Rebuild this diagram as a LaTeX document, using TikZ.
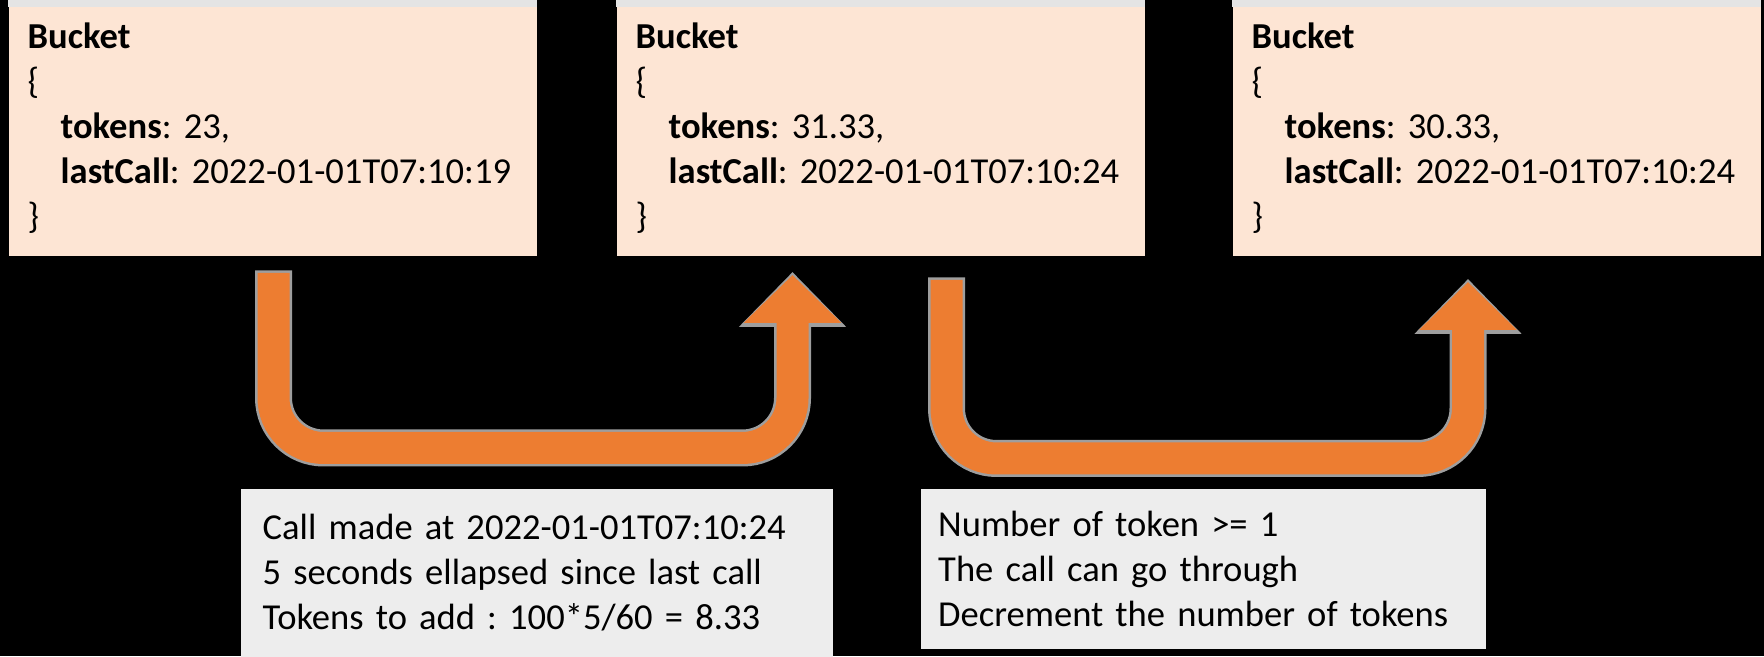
\documentclass[tikz,border=0pt]{standalone}
\usepackage{fontspec}
\setmainfont{Carlito}
\usetikzlibrary{arrows.meta}

\definecolor{peach}{HTML}{FDE5D4}
\definecolor{stripgray}{HTML}{E4E4E4}
\definecolor{notegray}{HTML}{EDEDED}
\definecolor{callorange}{HTML}{ED7D31}
\definecolor{edgegray}{HTML}{9E9E9E}

\begin{document}
\frenchspacing
\begin{tikzpicture}[
  font=\fontsize{10.4pt}{12.8pt}\selectfont,
  bucket/.style={anchor=north west, fill=peach, minimum height=2.55cm,
    inner xsep=0.19cm, inner ysep=0pt, text width=4.9cm, align=left},
  note/.style={anchor=north west, fill=notegray, inner ysep=0pt, align=left},
  flow/.style={draw=callorange, line width=0.32cm, rounded corners=0.5cm,
    -{Triangle[length=0.48cm, width=0.95cm]},
    preaction={draw=edgegray, line width=0.37cm, shorten <=-0.025cm, shorten >=-0.03cm,
      -{Triangle[length=0.55cm, width=1.04cm]}}}
]
\fill[black] (0,0) rectangle (17.64,6.56);

\node[bucket] (bucketA) at (0.08,6.56) {\textbf{Bucket}\\ \{\\ \hspace*{0.33cm}\textbf{tokens}: 23,\\ \hspace*{0.33cm}\textbf{lastCall}: 2022-01-01T07:10:19\\ \}};
\node[bucket] (bucketB) at (6.16,6.56) {\textbf{Bucket}\\ \{\\ \hspace*{0.33cm}\textbf{tokens}: 31.33,\\ \hspace*{0.33cm}\textbf{lastCall}: 2022-01-01T07:10:24\\ \}};
\node[bucket] (bucketC) at (12.32,6.56) {\textbf{Bucket}\\ \{\\ \hspace*{0.33cm}\textbf{tokens}: 30.33,\\ \hspace*{0.33cm}\textbf{lastCall}: 2022-01-01T07:10:24\\ \}};

\foreach \b in {bucketA,bucketB,bucketC}
  \fill[stripgray] (\b.north west) rectangle ([yshift=-0.07cm]\b.north east);

\node[note, minimum width=5.92cm, minimum height=1.68cm, inner xsep=0.22cm, text width=5.48cm] (noteA) at (2.40,1.68)
  {Call made at 2022-01-01T07:10:24\\ 5 seconds ellapsed since last call\\ Tokens to add : 100*5/60 = 8.33};
\node[note, minimum width=5.65cm, minimum height=1.60cm, inner xsep=0.175cm, text width=5.3cm] (noteB) at (9.20,1.68)
  {Number of token >= 1\\ The call can go through\\ Decrement the number of tokens};

\coordinate (startA) at (2.735,3.83);
\coordinate (cornerA) at (7.925,2.08);
\coordinate (tipA) at (7.925,3.81);
\coordinate (startB) at (9.465,3.76);
\coordinate (cornerB) at (14.68,1.975);
\coordinate (tipB) at (14.68,3.74);

\draw[flow] (startA) |- (cornerA) -- (tipA);
\draw[flow] (startB) |- (cornerB) -- (tipB);

\end{tikzpicture}
\end{document}
